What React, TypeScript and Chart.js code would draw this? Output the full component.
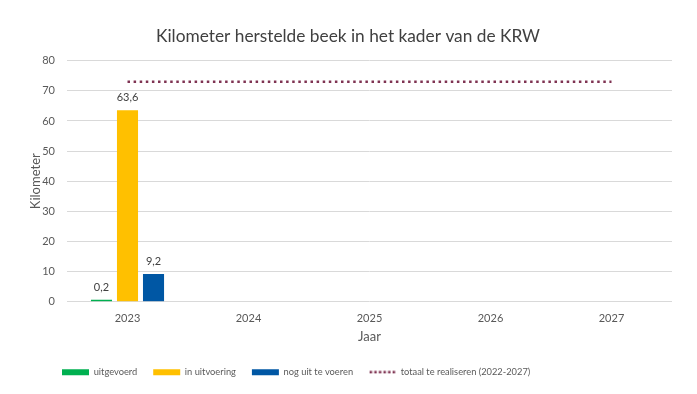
import React, { useEffect, useRef } from "react";
import { Chart, registerables } from "chart.js";

Chart.register(...registerables);

const categories = ["2023", "2024", "2025", "2026", "2027"];
const uitgevoerd = [0.2, null, null, null, null];
const inUitvoering = [63.6, null, null, null, null];
const nogUitTeVoeren = [9.2, null, null, null, null];
const totaal = [73, 73, 73, 73, 73];
const yTicks = [0, 10, 20, 30, 40, 50, 60, 70, 80];

const FONT = "Lato, 'Open Sans', sans-serif";
const TEXT = "#595959";

function dotImage(): HTMLCanvasElement {
  const c = document.createElement("canvas");
  c.width = 28;
  c.height = 6;
  const ctx = c.getContext("2d")!;
  ctx.fillStyle = "#7F3352";
  for (let i = 0; i < 6; i++) {
    ctx.fillRect(1 + i * 4.6, 1.5, 2.5, 2.5);
  }
  return c;
}

const valueLabels = {
  id: "valueLabels",
  afterDatasetsDraw(chart: any) {
    const ctx = chart.ctx;
    ctx.save();
    ctx.font = `11px ${FONT}`;
    ctx.fillStyle = "#404040";
    ctx.textAlign = "center";
    ctx.textBaseline = "bottom";
    chart.data.datasets.forEach((ds: any, di: number) => {
      if (ds.type === "line") return;
      const meta = chart.getDatasetMeta(di);
      meta.data.forEach((el: any, i: number) => {
        const v = ds.data[i];
        if (v === null || v === undefined) return;
        ctx.fillText(String(v).replace(".", ","), el.x, el.y - 7);
      });
    });
    ctx.restore();
  },
};

const shiftBlocks = {
  id: "shiftBlocks",
  afterLayout(chart: any) {
    if (chart.legend) {
      chart.legend.left = 38;
    }
    if (chart.titleBlock) {
      chart.titleBlock.left += 8;
      chart.titleBlock.right += 8;
    }
  },
};

export default function App() {
  const ref = useRef<HTMLCanvasElement>(null);
  useEffect(() => {
    const img = dotImage();
    const chart = new Chart(ref.current!, {
      type: "bar",
      data: {
        labels: categories,
        datasets: [
          { label: "uitgevoerd", data: uitgevoerd, backgroundColor: "#00B050", minBarLength: 2, order: 2 },
          { label: "in uitvoering", data: inUitvoering, backgroundColor: "#FFC000", order: 2 },
          { label: "nog uit te voeren", data: nogUitTeVoeren, backgroundColor: "#0057A4", order: 2 },
          {
            type: "line",
            label: "totaal te realiseren (2022-2027)",
            data: totaal,
            borderColor: "#7F3352",
            backgroundColor: "#7F3352",
            borderWidth: 2.5,
            borderDash: [2.5, 3.6],
            pointRadius: 0,
            fill: false,
            order: 1,
          } as any,
        ],
      },
      options: {
        animation: false,
        responsive: true,
        maintainAspectRatio: false,
        layout: { padding: { left: 0, right: 17, top: 0, bottom: -1 } },
        datasets: {
          bar: { categoryPercentage: 0.645, barPercentage: 0.81, grouped: true },
        },
        plugins: {
          title: {
            display: true,
            text: "Kilometer herstelde beek in het kader van de KRW",
            color: "#404040",
            font: { family: FONT, size: 17.3, weight: "normal" },
            padding: { top: 18, bottom: 14 },
          },
          tooltip: { enabled: false },
          legend: {
            position: "bottom",
            align: "start",
            labels: {
              font: { family: FONT, size: 9.3 },
              color: TEXT,
              boxWidth: 27,
              boxHeight: 6,
              padding: 16,
              usePointStyle: true,
              pointStyleWidth: 27,
              generateLabels(chart: any) {
                return chart.data.datasets.map((ds: any, i: number) => ({
                  text: ds.label,
                  fillStyle: ds.backgroundColor,
                  strokeStyle: ds.backgroundColor,
                  lineWidth: 0,
                  pointStyle: ds.type === "line" ? img : "rect",
                  datasetIndex: i,
                  hidden: false,
                  fontColor: TEXT,
                }));
              },
            },
          },
        },
        scales: {
          x: {
            grid: { display: false, drawTicks: false },
            border: { display: false },
            ticks: { color: TEXT, font: { family: FONT, size: 11, lineHeight: 1 }, padding: 11 },
            title: {
              display: true,
              text: "Jaar",
              color: TEXT,
              font: { family: FONT, size: 13, lineHeight: 1 },
              padding: { top: -4, bottom: 8 },
            },
          },
          y: {
            min: 0,
            max: 80,
            afterBuildTicks(scale: any) {
              scale.ticks = yTicks.map((v) => ({ value: v }));
            },
            afterFit(scale: any) {
              scale.width = 59;
            },
            grid: { color: "#D9D9D9", drawTicks: false, lineWidth: 1 },
            border: { display: false },
            ticks: { color: TEXT, font: { family: FONT, size: 11 }, padding: 12 },
            title: {
              display: true,
              text: "Kilometer",
              color: TEXT,
              font: { family: FONT, size: 13 },
              padding: { top: 20, bottom: 0 },
            },
          },
        },
      },
      plugins: [valueLabels, shiftBlocks],
    });
    return () => chart.destroy();
  }, []);
  return (
    <div style={{ width: 681, height: 378 }}>
      <canvas ref={ref} />
    </div>
  );
}
